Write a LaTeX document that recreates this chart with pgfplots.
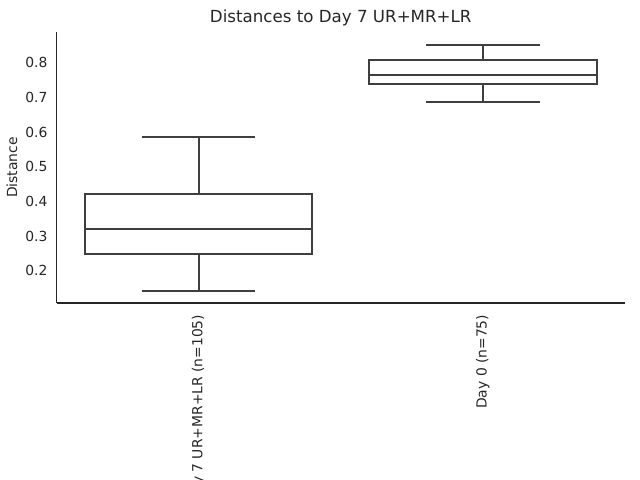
\documentclass[border=0pt]{standalone}
\usepackage{pgfplots}
\pgfplotsset{compat=1.18}
\usepgfplotslibrary{statistics}
\usepackage{fontspec}
\setmainfont{DejaVu Sans}
\definecolor{txt}{HTML}{262626}
\definecolor{boxc}{HTML}{3F3F3F}
\begin{document}
\begin{tikzpicture}
\begin{axis}[
  at={(0,0)}, anchor=south west,
  scale only axis,
  width=409.3pt, height=195.1pt,
  xmin=-0.5, xmax=1.5,
  ymin=0.107, ymax=0.8885,
  axis x line*=bottom, axis y line*=left,
  axis line style={txt, line width=0.9pt},
  xtick={0,1},
  xticklabels={Day 7 UR+MR+LR (n=105), Day 0 (n=75)},
  ytick={0.2,0.3,0.4,0.5,0.6,0.7,0.8},
  yticklabel style={/pgf/number format/fixed, /pgf/number format/precision=1, /pgf/number format/fixed zerofill},
  /pgf/number format/assume math mode=true,
  major tick length=0pt,
  tick label style={font=\fontsize{10}{12}\selectfont, text=txt},
  xticklabel style={rotate=90, anchor=east, xshift=-5pt},
  yticklabel style={xshift=-3pt},
  ylabel={Distance},
  ylabel style={font=\fontsize{10}{12}\selectfont, text=txt, at={(axis description cs:-0.0783,0.5)}, anchor=center},
  title={Distances to Day 7 UR+MR+LR},
  title style={font=\fontsize{12}{14}\selectfont, text=txt, at={(axis description cs:0.5,1)}, anchor=south, yshift=-5pt},
  boxplot/draw direction=y,
]
\addplot+[boxplot prepared={draw position=0, lower whisker=0.1423, lower quartile=0.2491, median=0.3194, upper quartile=0.4213, upper whisker=0.5866, box extend=0.8, whisker extend=0.4}, draw=boxc, line width=1.4pt, fill=white, mark=none, solid] coordinates {};
\addplot+[boxplot prepared={draw position=1, lower whisker=0.6875, lower quartile=0.739, median=0.765, upper quartile=0.808, upper whisker=0.851, box extend=0.8, whisker extend=0.4}, draw=boxc, line width=1.4pt, fill=white, mark=none, solid] coordinates {};
\end{axis}
\pgfresetboundingbox
\useasboundingbox (-40.7pt,-127.4pt) rectangle (420.1pt,218.1pt);
\end{tikzpicture}
\end{document}
